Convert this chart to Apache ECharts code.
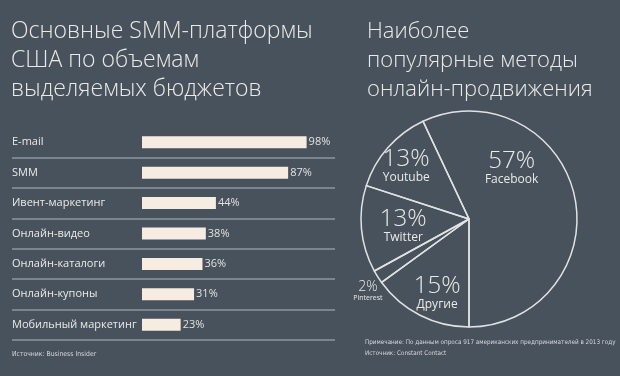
<!DOCTYPE html>
<html>
<head>
<meta charset="utf-8">
<script src="https://cdn.jsdelivr.net/npm/echarts@6/dist/echarts.min.js"></script>
<style>
  html, body { margin: 0; padding: 0; background: #47525d; }
  #chart { width: 620px; height: 376px; }
</style>
</head>
<body>
<div id="chart"></div>
<script>
// бюджеты на SMM-платформы, %
const platforms = ['E-mail', 'SMM', 'Ивент-маркетинг', 'Онлайн-видео', 'Онлайн-каталоги', 'Онлайн-купоны', 'Мобильный маркетинг']
const budgetShare = [98, 87, 44, 38, 36, 31, 23]

// методы онлайн-продвижения, %
const methods = ['Facebook', 'Другие', 'Pinterest', 'Twitter', 'Youtube']
const methodShare = [57, 15, 2, 13, 13]

// сдвиг подписей сектора от стандартной точки
const labelShift = [[-13, -39], [-6, 23], [-53, 41], [-9, 1], [-20, -16]]

const font = 'Open Sans'
const smallFont = "'Liberation Sans Narrow', 'DejaVu Sans Condensed', Roboto"
const textColor = '#eceae6'

const myChart = echarts.init(document.getElementById('chart'))

const titleStyle = { color: textColor, fontSize: 23, fontWeight: 300, lineHeight: 29, fontFamily: font }
const noteStyle = { color: '#d8d8d8', fontSize: 6.8, fontWeight: 'normal', lineHeight: 11, fontFamily: smallFont }

const option = {
  backgroundColor: '#47525d',
  textStyle: { fontFamily: font },
  title: [
    {
      text: 'Основные SMM-платформы\nСША по объемам\nвыделяемых бюджетов',
      left: 11, top: 17, padding: 0,
      textStyle: titleStyle
    },
    {
      text: 'Наиболее\nпопулярные методы\nонлайн-продвижения',
      left: 367, top: 17, padding: 0,
      textStyle: Object.assign({}, titleStyle, { fontSize: 22 })
    },
    {
      text: 'Источник: Business Insider',
      left: 12, top: 349, padding: 0,
      textStyle: noteStyle
    },
    {
      text: 'Примечание: По данным опроса 917 американских предпринимателей в 2013 году\nИсточник: Constant Contact',
      left: 365, top: 337, padding: 0,
      textStyle: Object.assign({}, noteStyle, { fontSize: 6.3 })
    }
  ],
  grid: {
    left: 12,
    width: 323,
    top: 127,
    height: 213
  },
  xAxis: {
    type: 'value',
    min: -77.4,
    max: 114.9,
    show: false
  },
  yAxis: {
    type: 'category',
    inverse: true,
    data: platforms,
    axisLine: { show: false },
    axisTick: { show: false },
    axisLabel: {
      inside: true,
      margin: 0,
      align: 'left',
      color: textColor,
      fontSize: 11,
      fontFamily: font
    },
    splitLine: {
      show: true,
      lineStyle: {
        color: ['rgba(0,0,0,0)', '#8d979f', '#8d979f', '#8d979f', '#8d979f', '#8d979f', '#8d979f', '#8d979f'],
        width: 1.5
      }
    }
  },
  series: [
    {
      type: 'bar',
      data: budgetShare,
      barWidth: 12,
      itemStyle: { color: '#f7ece2' },
      label: {
        show: true,
        position: 'right',
        distance: 2,
        formatter: '{c}%',
        color: '#e4e2de',
        fontSize: 11,
        fontFamily: font
      },
      silent: true
    },
    {
      type: 'pie',
      center: [469, 219],
      radius: 108,
      startAngle: 115.2,
      clockwise: true,
      silent: true,
      data: methods.map((name, i) => ({
        name: name,
        value: methodShare[i],
        label: i === 2 ? {
          formatter: '{ps|{c}%}\n{pn|{b}}'
        } : undefined
      })),
      itemStyle: {
        color: 'rgba(0,0,0,0)',
        borderColor: '#e2e2e2',
        borderWidth: 1.5
      },
      label: {
        show: true,
        position: 'inside',
        formatter: '{p|{c}%}\n{n|{b}}',
        color: textColor,
        fontFamily: font,
        align: 'center',
        rich: {
          p: { fontSize: 24, fontWeight: 300, color: textColor, lineHeight: 24, fontFamily: font },
          n: { fontSize: 12, color: textColor, lineHeight: 13, fontFamily: font },
          ps: { fontSize: 14, fontWeight: 300, color: textColor, lineHeight: 14, fontFamily: font },
          pn: { fontSize: 7, color: textColor, lineHeight: 8, fontFamily: font }
        }
      },
      labelLine: { show: false },
      labelLayout: function (params) {
        const s = labelShift[params.dataIndex]
        return { dx: s[0], dy: s[1] }
      }
    }
  ]
}

myChart.setOption(option)
</script>
</body>
</html>
